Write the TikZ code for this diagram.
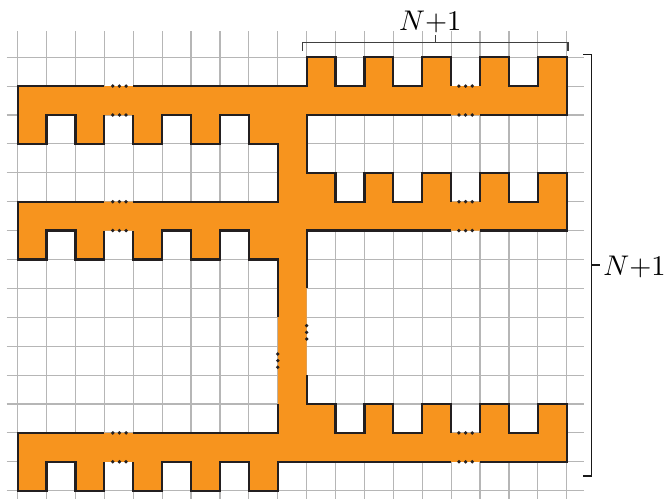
\documentclass[tikz,border=0pt]{standalone}
\definecolor{armorange}{RGB}{247,148,30}
\definecolor{gridgray}{RGB}{182,182,182}
\definecolor{outlinecol}{RGB}{35,31,32}
\begin{document}
\begin{tikzpicture}[x=1cm,y=1cm,
  gridline/.style={draw=gridgray,line width=1.15pt},
  shapefill/.style={fill=armorange},
  edgeline/.style={draw=outlinecol,line width=2.2pt,line join=miter},
  gapdot/.style={fill=outlinecol},
  bracketline/.style={draw=black!75,line width=1.4pt},
  countlabel/.style={scale=2.8,inner sep=0pt,anchor=base west}
]
\useasboundingbox (-0.612,-0.284) rectangle (22.40,16.98);
% grid
\foreach \i in {0,...,19} \draw[gridline] (\i,-0.284) -- (\i,15.91);
\foreach \j in {0,...,15} \draw[gridline] (-0.38,\j) -- (19.59,\j);
% orange shape
\fill[shapefill] (0,14) -- (10,14) -- (10,15) -- (11,15) -- (11,14) -- (12,14) -- (12,15) -- (13,15) -- (13,14) -- (14,14) -- (14,15) -- (15,15) -- (15,14) -- (16,14) -- (16,15) -- (17,15) -- (17,14) -- (18,14) -- (18,15) -- (19,15) -- (19,13) -- (10,13) -- (10,11) -- (11,11) -- (11,10) -- (12,10) -- (12,11) -- (13,11) -- (13,10) -- (14,10) -- (14,11) -- (15,11) -- (15,10) -- (16,10) -- (16,11) -- (17,11) -- (17,10) -- (18,10) -- (18,11) -- (19,11) -- (19,9) -- (10,9) -- (10,3) -- (11,3) -- (11,2) -- (12,2) -- (12,3) -- (13,3) -- (13,2) -- (14,2) -- (14,3) -- (15,3) -- (15,2) -- (16,2) -- (16,3) -- (17,3) -- (17,2) -- (18,2) -- (18,3) -- (19,3) -- (19,1) -- (9,1) -- (9,0) -- (8,0) -- (8,1) -- (7,1) -- (7,0) -- (6,0) -- (6,1) -- (5,1) -- (5,0) -- (4,0) -- (4,1) -- (3,1) -- (3,0) -- (2,0) -- (2,1) -- (1,1) -- (1,0) -- (0,0) -- (0,2) -- (9,2) -- (9,8) -- (8,8) -- (8,9) -- (7,9) -- (7,8) -- (6,8) -- (6,9) -- (5,9) -- (5,8) -- (4,8) -- (4,9) -- (3,9) -- (3,8) -- (2,8) -- (2,9) -- (1,9) -- (1,8) -- (0,8) -- (0,10) -- (9,10) -- (9,12) -- (8,12) -- (8,13) -- (7,13) -- (7,12) -- (6,12) -- (6,13) -- (5,13) -- (5,12) -- (4,12) -- (4,13) -- (3,13) -- (3,12) -- (2,12) -- (2,13) -- (1,13) -- (1,12) -- (0,12) -- cycle;
% outline pieces
\draw[edgeline] (3,13) -- (3,12) -- (2,12) -- (2,13) -- (1,13) -- (1,12) -- (0,12) -- (0,14) -- (3,14);
\draw[edgeline] (4,14) -- (10,14) -- (10,15) -- (11,15) -- (11,14) -- (12,14) -- (12,15) -- (13,15) -- (13,14) -- (14,14) -- (14,15) -- (15,15) -- (15,14);
\draw[edgeline] (16,14) -- (16,15) -- (17,15) -- (17,14) -- (18,14) -- (18,15) -- (19,15) -- (19,13) -- (16,13);
\draw[edgeline] (15,13) -- (10,13) -- (10,11) -- (11,11) -- (11,10) -- (12,10) -- (12,11) -- (13,11) -- (13,10) -- (14,10) -- (14,11) -- (15,11) -- (15,10);
\draw[edgeline] (16,10) -- (16,11) -- (17,11) -- (17,10) -- (18,10) -- (18,11) -- (19,11) -- (19,9) -- (16,9);
\draw[edgeline] (15,9) -- (10,9) -- (10,7);
\draw[edgeline] (10,4) -- (10,3) -- (11,3) -- (11,2) -- (12,2) -- (12,3) -- (13,3) -- (13,2) -- (14,2) -- (14,3) -- (15,3) -- (15,2);
\draw[edgeline] (16,2) -- (16,3) -- (17,3) -- (17,2) -- (18,2) -- (18,3) -- (19,3) -- (19,1) -- (16,1);
\draw[edgeline] (15,1) -- (9,1) -- (9,0) -- (8,0) -- (8,1) -- (7,1) -- (7,0) -- (6,0) -- (6,1) -- (5,1) -- (5,0) -- (4,0) -- (4,1);
\draw[edgeline] (3,1) -- (3,0) -- (2,0) -- (2,1) -- (1,1) -- (1,0) -- (0,0) -- (0,2) -- (3,2);
\draw[edgeline] (4,2) -- (9,2) -- (9,3);
\draw[edgeline] (9,6) -- (9,8) -- (8,8) -- (8,9) -- (7,9) -- (7,8) -- (6,8) -- (6,9) -- (5,9) -- (5,8) -- (4,8) -- (4,9);
\draw[edgeline] (3,9) -- (3,8) -- (2,8) -- (2,9) -- (1,9) -- (1,8) -- (0,8) -- (0,10) -- (3,10);
\draw[edgeline] (4,10) -- (9,10) -- (9,12) -- (8,12) -- (8,13) -- (7,13) -- (7,12) -- (6,12) -- (6,13) -- (5,13) -- (5,12) -- (4,12) -- (4,13);
% ellipsis dots
\foreach \r in {14,13,10,9,2,1} {
  \foreach \d in {-0.23,0,0.23} {
    \fill[gapdot] (3.52+\d,\r) circle (0.065);
    \fill[gapdot] (15.5+\d,\r) circle (0.065);
  }
}
\foreach \d in {-0.23,0,0.23} {
  \fill[gapdot] (10,5.48+\d) circle (0.065);
  \fill[gapdot] (9,4.5+\d) circle (0.065);
}
% brackets
\coordinate (topL) at (9.86,15.22);
\coordinate (topR) at (19.05,15.22);
\coordinate (topM) at (14.46,15.5);
\draw[bracketline] (topL) -- (9.86,15.5) -- (19.05,15.5) -- (topR);
\draw[bracketline] (topM) -- (14.46,15.77);
\coordinate (sideT) at (19.57,15.1);
\coordinate (sideB) at (19.57,0.51);
\coordinate (sideM) at (19.86,7.81);
\draw[bracketline,draw=black!90] (sideT) -- (19.86,15.1) -- (19.86,0.51) -- (sideB);
\draw[bracketline,draw=black!90] (sideM) -- (20.15,7.81);
% labels
\node[countlabel] (toplabel) at (13.18,15.94) {$N{+}1$};
\node[countlabel] (sidelabel) at (20.25,7.44) {$N{+}1$};
\end{tikzpicture}
\end{document}
